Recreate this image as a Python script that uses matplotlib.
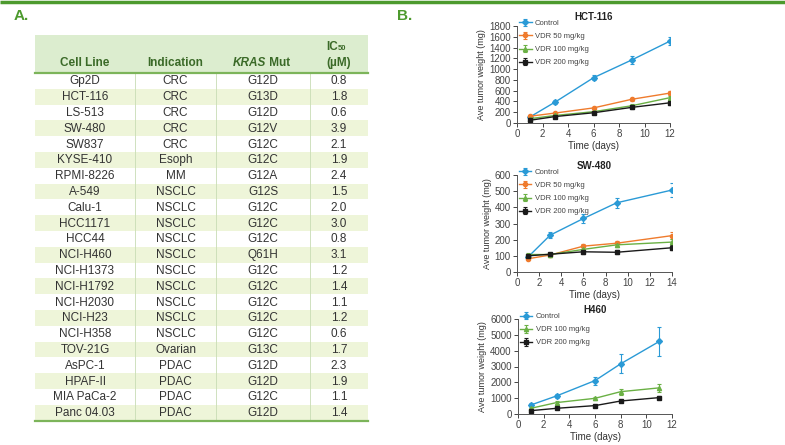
import matplotlib.pyplot as plt
from matplotlib.patches import Rectangle

plt.rcParams['font.family'] = ['Liberation Sans', 'DejaVu Sans']
NARROW = ['Liberation Sans Narrow', 'Liberation Sans', 'DejaVu Sans']

# ---- table data (panel A) ----
cell_lines = ['Gp2D', 'HCT-116', 'LS-513', 'SW-480', 'SW837', 'KYSE-410', 'RPMI-8226',
              'A-549', 'Calu-1', 'HCC1171', 'HCC44', 'NCI-H460', 'NCI-H1373', 'NCI-H1792',
              'NCI-H2030', 'NCI-H23', 'NCI-H358', 'TOV-21G', 'AsPC-1', 'HPAF-II',
              'MIA PaCa-2', 'Panc 04.03']
indications = ['CRC', 'CRC', 'CRC', 'CRC', 'CRC', 'Esoph', 'MM', 'NSCLC', 'NSCLC', 'NSCLC',
               'NSCLC', 'NSCLC', 'NSCLC', 'NSCLC', 'NSCLC', 'NSCLC', 'NSCLC', 'Ovarian',
               'PDAC', 'PDAC', 'PDAC', 'PDAC']
kras_mut = ['G12D', 'G13D', 'G12D', 'G12V', 'G12C', 'G12C', 'G12A', 'G12S', 'G12C', 'G12C',
            'G12C', 'Q61H', 'G12C', 'G12C', 'G12C', 'G12C', 'G12C', 'G13C', 'G12D', 'G12D',
            'G12C', 'G12D']
ic50 = [0.8, 1.8, 0.6, 3.9, 2.1, 1.9, 2.4, 1.5, 2.0, 3.0, 0.8, 3.1, 1.2, 1.4, 1.1, 1.2, 0.6,
        1.7, 2.3, 1.9, 1.1, 1.4]

# ---- tumour growth data (panel B) ----
hct_days = [1, 3, 6, 9, 12]
hct_control = [110, 390, 840, 1170, 1520]
hct_control_err = [20, 30, 50, 80, 80]
hct_vdr50 = [125, 185, 280, 440, 555]
hct_vdr50_err = [15, 20, 25, 30, 40]
hct_vdr100 = [80, 140, 210, 320, 470]
hct_vdr100_err = [10, 15, 20, 30, 35]
hct_vdr200 = [50, 120, 190, 290, 375]
hct_vdr200_err = [10, 15, 20, 30, 40]

sw_days = [1, 3, 6, 9, 14]
sw_control = [93, 228, 331, 428, 507]
sw_control_err = [10, 20, 25, 30, 45]
sw_vdr50 = [82, 105, 160, 178, 225]
sw_vdr50_err = [8, 10, 15, 15, 20]
sw_vdr100 = [108, 108, 140, 168, 185]
sw_vdr100_err = [8, 10, 12, 15, 18]
sw_vdr200 = [100, 110, 125, 122, 150]
sw_vdr200_err = [8, 10, 12, 12, 15]

h460_days = [1, 3, 6, 8, 11]
h460_control = [570, 1140, 2110, 3170, 4580]
h460_control_err = [100, 150, 250, 600, 900]
h460_vdr100 = [360, 720, 990, 1410, 1650]
h460_vdr100_err = [50, 80, 100, 200, 250]
h460_vdr200 = [210, 360, 530, 820, 1035]
h460_vdr200_err = [30, 40, 50, 80, 100]

C_BLUE = '#2a9ad6'
C_ORANGE = '#ef7b2d'
C_GREEN = '#6ab044'
C_BLACK = '#1a1a1a'
GREEN_DARK = '#4d9a2e'

W, H = 785, 445
fig = plt.figure(figsize=(W / 100, H / 100), dpi=100)

# overlay axes in pixel coordinates for table and decorations
bg = fig.add_axes([0, 0, 1, 1])
bg.set_xlim(0, W)
bg.set_ylim(H, 0)
bg.axis('off')

bg.plot([0, W], [1.5, 1.5], color=GREEN_DARK, lw=2.5, solid_capstyle='butt')
bg.text(14, 16, 'A.', color=GREEN_DARK, fontsize=11, fontweight='bold', va='center')
bg.text(397, 16, 'B.', color=GREEN_DARK, fontsize=11, fontweight='bold', va='center')

# table
tx0, tx1 = 35, 368
col_edges = [35, 135, 216, 310, 368]
head_top, head_bot = 35, 73
row_h = 15.8
bg.add_patch(Rectangle((tx0, head_top), tx1 - tx0, head_bot - head_top,
                       facecolor='#dcedcf', edgecolor='none'))
hdr_color = '#3b6a28'
centers = [(col_edges[i] + col_edges[i + 1]) / 2 for i in range(4)]
hdr = dict(va='center', fontsize=8.5, fontweight='bold', color=hdr_color, family=NARROW)
bg.text(centers[0], 63, 'Cell Line', ha='center', **hdr)
bg.text(centers[1], 63, 'Indication', ha='center', **hdr)
bg.text(centers[2] + 3, 63, 'KRAS', ha='right', style='italic', **hdr)
bg.text(centers[2] + 3, 63, ' Mut', ha='left', **hdr)
bg.text(centers[3] - 1, 47, 'IC', ha='right', **hdr)
bg.text(centers[3] - 1, 49, '50', ha='left', va='center', fontsize=5.5, fontweight='bold',
        color=hdr_color, family=NARROW)
bg.text(centers[3], 63, '(µM)', ha='center', **hdr)

n = len(cell_lines)
for i in range(n):
    y0 = head_bot + i * row_h
    if i % 2 == 1:
        bg.add_patch(Rectangle((tx0, y0), tx1 - tx0, row_h, facecolor='#eef5d9',
                               edgecolor='none'))
    yc = y0 + row_h / 2 + 0.5
    vals = [cell_lines[i], indications[i], kras_mut[i], f'{ic50[i]:.1f}']
    for c, v in zip(centers, vals):
        bg.text(c, yc, v, ha='center', va='center', fontsize=8.5, color='#333333',
                family=NARROW)
tab_bot = head_bot + n * row_h
for xe in col_edges[1:-1]:
    bg.plot([xe, xe], [head_bot, tab_bot], color='#c8dcb4', lw=0.6)
bg.plot([tx0, tx1], [head_bot, head_bot], color='#7cb45a', lw=1.6)
bg.plot([tx0, tx1], [tab_bot, tab_bot], color='#7cb45a', lw=1.6)


def px_axes(left, right, top, bottom):
    return fig.add_axes([left / W, 1 - bottom / H, (right - left) / W, (bottom - top) / H])


def style(ax, title, xmax, ymax, ystep):
    ax.set_xlim(0, xmax)
    ax.set_ylim(0, ymax)
    ax.set_xticks(range(0, xmax + 1, 2))
    ax.set_yticks(range(0, ymax + 1, ystep))
    for s in ['top', 'right']:
        ax.spines[s].set_visible(False)
    for s in ['left', 'bottom']:
        ax.spines[s].set_color('#555555')
        ax.spines[s].set_linewidth(0.7)
    ax.tick_params(labelsize=7, colors='#444444', length=3, width=0.7, pad=1.5)
    ax.set_xlabel('Time (days)', fontsize=7, color='#333333', labelpad=1)
    ax.set_ylabel('Ave tumor weight (mg)', fontsize=6.5, color='#333333', labelpad=2)
    ax.set_title(title, fontsize=7, fontweight='bold', color='#222222', pad=4)
    ax.legend(loc='upper left', bbox_to_anchor=(-0.02, 1.12), frameon=False, fontsize=5.5,
              handlelength=1.6, handletextpad=0.4, labelspacing=0.75, borderpad=0.2,
              labelcolor='#444444')


def series(ax, x, y, err, color, marker, label):
    ax.errorbar(x, y, yerr=err, color=color, marker=marker, ms=3, lw=1, elinewidth=0.8,
                capsize=1.5, capthick=0.8, label=label)


ax1 = px_axes(517, 670, 26, 123)
series(ax1, hct_days, hct_control, hct_control_err, C_BLUE, 'D', 'Control')
series(ax1, hct_days, hct_vdr50, hct_vdr50_err, C_ORANGE, 'o', 'VDR 50 mg/kg')
series(ax1, hct_days, hct_vdr100, hct_vdr100_err, C_GREEN, '^', 'VDR 100 mg/kg')
series(ax1, hct_days, hct_vdr200, hct_vdr200_err, C_BLACK, 's', 'VDR 200 mg/kg')
style(ax1, 'HCT-116', 12, 1800, 200)

ax2 = px_axes(517, 672, 175, 272)
series(ax2, sw_days, sw_control, sw_control_err, C_BLUE, 'D', 'Control')
series(ax2, sw_days, sw_vdr50, sw_vdr50_err, C_ORANGE, 'o', 'VDR 50 mg/kg')
series(ax2, sw_days, sw_vdr100, sw_vdr100_err, C_GREEN, '^', 'VDR 100 mg/kg')
series(ax2, sw_days, sw_vdr200, sw_vdr200_err, C_BLACK, 's', 'VDR 200 mg/kg')
style(ax2, 'SW-480', 14, 600, 100)

ax3 = px_axes(518, 672, 319, 414)
series(ax3, h460_days, h460_control, h460_control_err, C_BLUE, 'D', 'Control')
series(ax3, h460_days, h460_vdr100, h460_vdr100_err, C_GREEN, '^', 'VDR 100 mg/kg')
series(ax3, h460_days, h460_vdr200, h460_vdr200_err, C_BLACK, 's', 'VDR 200 mg/kg')
style(ax3, 'H460', 12, 6000, 1000)

fig.savefig('out.png', dpi=100)
